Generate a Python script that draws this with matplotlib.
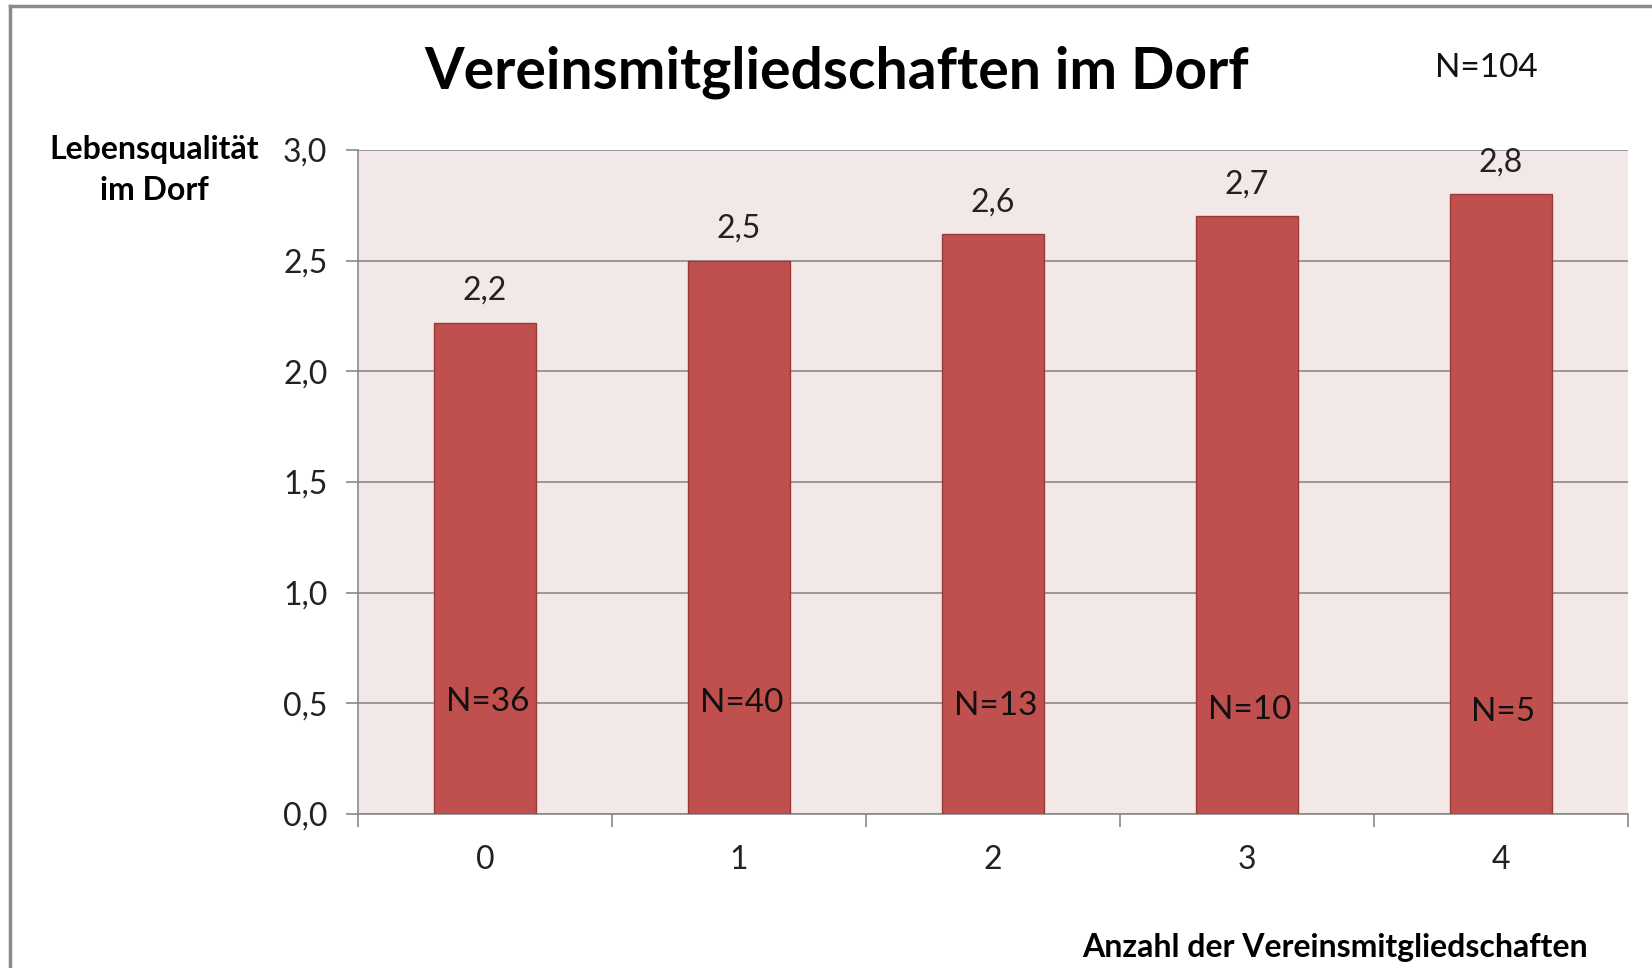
import matplotlib
matplotlib.use("Agg")
import matplotlib.pyplot as plt
from matplotlib.lines import Line2D

plt.rcParams['font.family'] = ['Lato', 'DejaVu Sans']

categories = ["0", "1", "2", "3", "4"]
values = [2.22, 2.50, 2.62, 2.70, 2.80]
value_labels = ["2,2", "2,5", "2,6", "2,7", "2,8"]
n_labels = ["N=36", "N=40", "N=13", "N=10", "N=5"]
n_label_y = [0.505, 0.500, 0.487, 0.472, 0.462]
yticks = [0.0, 0.5, 1.0, 1.5, 2.0, 2.5, 3.0]
ytick_labels = ["0,0", "0,5", "1,0", "1,5", "2,0", "2,5", "3,0"]

W, H = 1652, 968
fig = plt.figure(figsize=(W / 100, H / 100), dpi=100)
fig.patch.set_facecolor("white")

# outer chart border (left and top visible)
fig.add_artist(Line2D([10 / W, 10 / W], [0, 1 - 6 / H], transform=fig.transFigure,
                      color="#8a8a8a", lw=2.5))
fig.add_artist(Line2D([10 / W, 1], [1 - 6 / H, 1 - 6 / H], transform=fig.transFigure,
                      color="#8a8a8a", lw=2.5))

ax = fig.add_axes([358 / W, 1 - 814 / H, (1628 - 358) / W, (814 - 150) / H])
ax.set_facecolor("#F2E8E8")

x = list(range(len(categories)))
ax.bar(x, values, width=0.405, color="#C0504D", edgecolor="#9B3B38", linewidth=1.0, zorder=3)

ax.set_xlim(-0.5, 4.5)
ax.set_ylim(0, 3.0)
ax.set_yticks(yticks)
ax.set_yticklabels(ytick_labels, fontsize=23, color="#222222")
ax.set_xticks(x)
ax.set_xticklabels(categories, fontsize=23, color="#222222")
ax.set_xticks([-0.5, 0.5, 1.5, 2.5, 3.5, 4.5], minor=True)
ax.tick_params(axis="x", which="major", length=0, pad=22)
ax.tick_params(axis="x", which="minor", length=9, color="#8a8a8a", width=1.2)
ax.tick_params(axis="y", which="major", length=9, color="#8a8a8a", width=1.2, pad=13)

ax.grid(axis="y", color="#8a8a8a", linewidth=1.2, zorder=0)
ax.set_axisbelow(True)
for s in ["top", "right"]:
    ax.spines[s].set_visible(False)
for s in ["left", "bottom"]:
    ax.spines[s].set_color("#8a8a8a")
    ax.spines[s].set_linewidth(1.2)

for xi, v, lab in zip(x, values, value_labels):
    ax.annotate(lab, (xi, v), xytext=(0, 32), textcoords="offset pixels",
                ha="center", va="center", fontsize=23, color="#222222")

for xi, ny, lab in zip(x, n_label_y, n_labels):
    ax.text(xi + 0.01, ny, lab, ha="center", va="center", fontsize=24, color="#111111", zorder=4)

fig.text(837 / W, 1 - 72 / H, "Vereinsmitgliedschaften im Dorf", ha="center", va="center",
         fontsize=41, fontweight="bold", color="#000000")
fig.text(1486 / W, 1 - 68 / H, "N=104", ha="center", va="center", fontsize=24, color="#111111")
fig.text(154 / W, 1 - 170 / H, "Lebensqualität\nim Dorf", ha="center", va="center",
         fontsize=23, fontweight="bold", color="#000000", linespacing=1.5)
fig.text(1588 / W, 1 - 948 / H, "Anzahl der Vereinsmitgliedschaften", ha="right", va="center",
         fontsize=23, fontweight="bold", color="#000000")

fig.savefig("out.png", dpi=100, facecolor="white")
